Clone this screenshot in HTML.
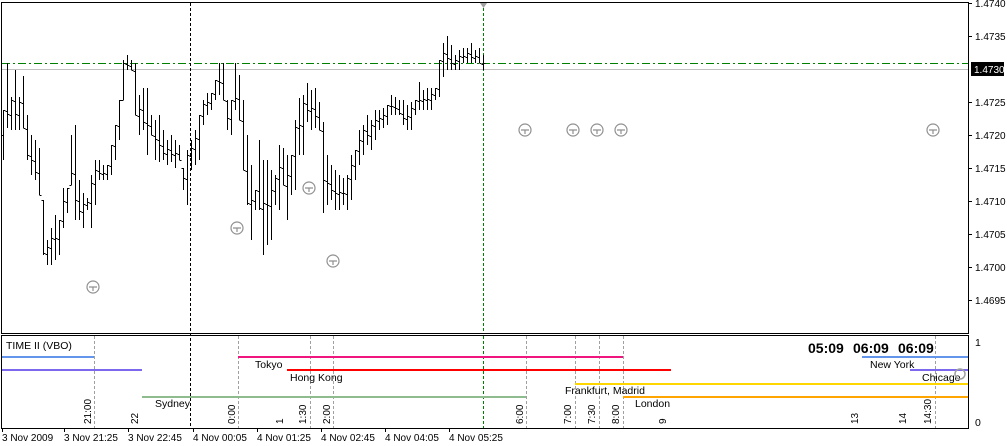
<!DOCTYPE html>
<html><head><meta charset="utf-8"><style>
body{margin:0;background:#fff;width:1007px;height:446px;overflow:hidden}
svg{display:block;font-family:"Liberation Sans",sans-serif;font-size:10px}
</style></head><body>
<svg id="s" width="1007" height="446" xmlns="http://www.w3.org/2000/svg">
<rect x="0" y="0" width="1007" height="446" fill="#fff"/>
<rect x="1.5" y="2.5" width="967" height="331" fill="none" stroke="#000"/>
<line x1="2" y1="69.5" x2="968" y2="69.5" stroke="#c0c0c0"/>
<line x1="2" y1="63.5" x2="968" y2="63.5" stroke="#008000" stroke-dasharray="8,3,2,3"/>
<line x1="190.5" y1="3" x2="190.5" y2="428" stroke="#000" stroke-dasharray="3,2"/>
<line x1="483.5" y1="3" x2="483.5" y2="333" stroke="#008000" stroke-dasharray="3,2"/>
<line x1="483.5" y1="336" x2="483.5" y2="428" stroke="#008000" stroke-dasharray="3,2"/>
<polygon points="480,3 487,3 483.5,8" fill="#a0a0a0"/>
<g id="bars" stroke="#000" stroke-width="1" fill="none"></g>
<g fill="none" stroke="#909090" stroke-width="1.2">
<g id="clocks"></g>
</g>
<g fill="#000" font-size="10px">
<text x="975" y="7">1.4740</text><line x1="968" y1="3.5" x2="972" y2="3.5" stroke="#000"/>
<text x="975" y="40">1.4735</text><line x1="968" y1="36.5" x2="972" y2="36.5" stroke="#000"/>
<text x="975" y="106">1.4725</text><line x1="968" y1="102.5" x2="972" y2="102.5" stroke="#000"/>
<text x="975" y="139">1.4720</text><line x1="968" y1="135.5" x2="972" y2="135.5" stroke="#000"/>
<text x="975" y="172">1.4715</text><line x1="968" y1="168.5" x2="972" y2="168.5" stroke="#000"/>
<text x="975" y="205">1.4710</text><line x1="968" y1="201.5" x2="972" y2="201.5" stroke="#000"/>
<text x="975" y="238">1.4705</text><line x1="968" y1="234.5" x2="972" y2="234.5" stroke="#000"/>
<text x="975" y="271">1.4700</text><line x1="968" y1="267.5" x2="972" y2="267.5" stroke="#000"/>
<text x="975" y="304">1.4695</text><line x1="968" y1="300.5" x2="972" y2="300.5" stroke="#000"/>
</g>
<rect x="971" y="62" width="33" height="14" fill="#000"/>
<text x="974" y="73" fill="#fff">1.4730</text>
<rect x="1.5" y="335.5" width="967" height="93" fill="none" stroke="#000"/>
<g stroke="#a0a0a0" stroke-dasharray="3,2">
<line x1="94.5" y1="336" x2="94.5" y2="428"/><line x1="238.5" y1="336" x2="238.5" y2="428"/>
<line x1="310.5" y1="336" x2="310.5" y2="428"/><line x1="333.5" y1="336" x2="333.5" y2="428"/>
<line x1="526.5" y1="336" x2="526.5" y2="428"/><line x1="575.5" y1="336" x2="575.5" y2="428"/>
<line x1="599.5" y1="336" x2="599.5" y2="428"/><line x1="623.5" y1="336" x2="623.5" y2="428"/>
<line x1="935.5" y1="336" x2="935.5" y2="428"/>
</g>
<g stroke-width="2">
<line x1="2" y1="357" x2="94" y2="357" stroke="#6495ed"/>
<line x1="2" y1="370" x2="142" y2="370" stroke="#7b68ee"/>
<line x1="238" y1="357" x2="623" y2="357" stroke="#f0147f"/>
<line x1="287" y1="370" x2="671" y2="370" stroke="#ff0000"/>
<line x1="142" y1="397" x2="526" y2="397" stroke="#8fbc8f"/>
<line x1="575" y1="384" x2="968" y2="384" stroke="#ffd700"/>
<line x1="623" y1="397" x2="968" y2="397" stroke="#ffa500"/>
<line x1="862" y1="357" x2="968" y2="357" stroke="#6495ed"/>
<line x1="910" y1="370" x2="968" y2="370" stroke="#7b68ee"/>
</g>
<g fill="#000" font-size="10.5px">
<text x="6" y="349">TIME II (VBO)</text>
<text x="255" y="368">Tokyo</text>
<text x="290" y="381">Hong Kong</text>
<text x="155" y="407">Sydney</text>
<text x="565" y="394">Frankfurt, Madrid</text>
<text x="635" y="407">London</text>
<text x="870" y="368">New York</text>
<text x="922" y="381">Chicago</text>
<text x="808" y="353" font-size="14px" font-weight="bold">05:09</text>
<text x="853" y="353" font-size="14px" font-weight="bold">06:09</text>
<text x="898" y="353" font-size="14px" font-weight="bold">06:09</text>
<text x="975" y="346">1</text>
<text x="975" y="426">0</text>
</g>
<g fill="#000" font-size="10px" id="rot"></g>
<circle cx="960" cy="374" r="5" fill="none" stroke="#a0a0a0" stroke-width="1.5"/>
<g fill="#000" font-size="10px">
<text x="2" y="441">3 Nov 2009</text>
<text x="64" y="441">3 Nov 21:25</text>
<text x="128" y="441">3 Nov 22:45</text>
<text x="193" y="441">4 Nov 00:05</text>
<text x="257" y="441">4 Nov 01:25</text>
<text x="321" y="441">4 Nov 02:45</text>
<text x="385" y="441">4 Nov 04:05</text>
<text x="449" y="441">4 Nov 05:25</text>
</g>
<g stroke="#000">
<line x1="2.5" y1="429" x2="2.5" y2="432"/><line x1="64.5" y1="429" x2="64.5" y2="432"/>
<line x1="128.5" y1="429" x2="128.5" y2="432"/><line x1="193.5" y1="429" x2="193.5" y2="432"/>
<line x1="257.5" y1="429" x2="257.5" y2="432"/><line x1="321.5" y1="429" x2="321.5" y2="432"/>
<line x1="385.5" y1="429" x2="385.5" y2="432"/><line x1="449.5" y1="429" x2="449.5" y2="432"/>
</g>
</svg>
<script>
var d=[[110,160],[63,128],[97,130],[70,130],[97,130],[76,128],[115,160],[135,175],[140,180],[148,195],[200,255],[240,265],[228,265],[215,260],[220,255],[188,228],[188,213],[135,185],[125,220],[180,220],[193,228],[198,210],[175,228],[160,205],[160,180],[165,180],[165,180],[145,175],[125,160],[100,140],[60,100],[55,70],[60,70],[63,115],[95,135],[88,130],[88,155],[115,135],[120,160],[115,162],[130,160],[140,165],[135,162],[140,168],[145,160],[168,190],[150,205],[140,170],[130,165],[115,160],[100,125],[93,115],[93,110],[80,100],[63,95],[63,100],[100,130],[100,135],[63,110],[75,120],[100,170],[135,205],[165,240],[190,210],[140,210],[160,255],[160,245],[170,240],[175,205],[145,210],[148,185],[155,220],[155,195],[120,190],[98,155],[95,155],[83,122],[90,130],[88,128],[102,130],[122,213],[155,205],[165,200],[170,210],[175,210],[178,205],[175,210],[155,200],[150,180],[130,165],[125,155],[115,145],[120,150],[110,140],[110,130],[108,128],[105,125],[95,115],[97,115],[100,115],[100,125],[105,130],[102,130],[100,115],[82,110],[90,110],[88,110],[88,110],[88,100],[60,97],[43,77],[36,70],[45,70],[55,70],[50,70],[48,63],[48,63],[43,63],[50,63],[48,63],[55,70]];
var p="",prev=null,n=d.length;
for(var i=0;i<n;i++){var x=3+i*(480/(n-1));x=Math.round(x)+0.5;var h=d[i][0],l=d[i][1];
var o=prev==null?(h+l)/2:Math.min(l,Math.max(h,prev));
var c=i<n-1?Math.min(l,Math.max(h,(d[i+1][0]+d[i+1][1])/2)):63;
o=Math.round(o)+0.5;c=Math.round(c)+0.5;prev=c;
p+="M"+x+" "+h+"V"+l+"M"+(x-2)+" "+o+"H"+x+"M"+x+" "+c+"H"+(x+2);}
var ns="http://www.w3.org/2000/svg";
var e=document.createElementNS(ns,"path");e.setAttribute("d",p);document.getElementById("bars").appendChild(e);
var cl=[[93,287],[237,228],[309,188],[333,261],[525,130],[573,130],[597,130],[621,130],[933,130]],g=document.getElementById("clocks");
cl.forEach(function(q){var c=document.createElementNS(ns,"circle");c.setAttribute("cx",q[0]);c.setAttribute("cy",q[1]);c.setAttribute("r",6);g.appendChild(c);
var t=document.createElementNS(ns,"path");t.setAttribute("d","M"+q[0]+" "+q[1]+"V"+(q[1]+4)+"M"+(q[0]-4)+" "+q[1]+"H"+(q[0]+4));g.appendChild(t);});
var r=[["21:00",91],["22",138],["0:00",235],["1",283],["1:30",306],["2:00",330],["6:00",523],["7:00",571],["7:30",595],["8:00",619],["9",666],["13",858],["14",906],["14:30",931]],rg=document.getElementById("rot");
r.forEach(function(q){var t=document.createElementNS(ns,"text");t.setAttribute("transform","translate("+q[1]+",424) rotate(-90)");t.textContent=q[0];rg.appendChild(t);});
</script>
</body></html>
